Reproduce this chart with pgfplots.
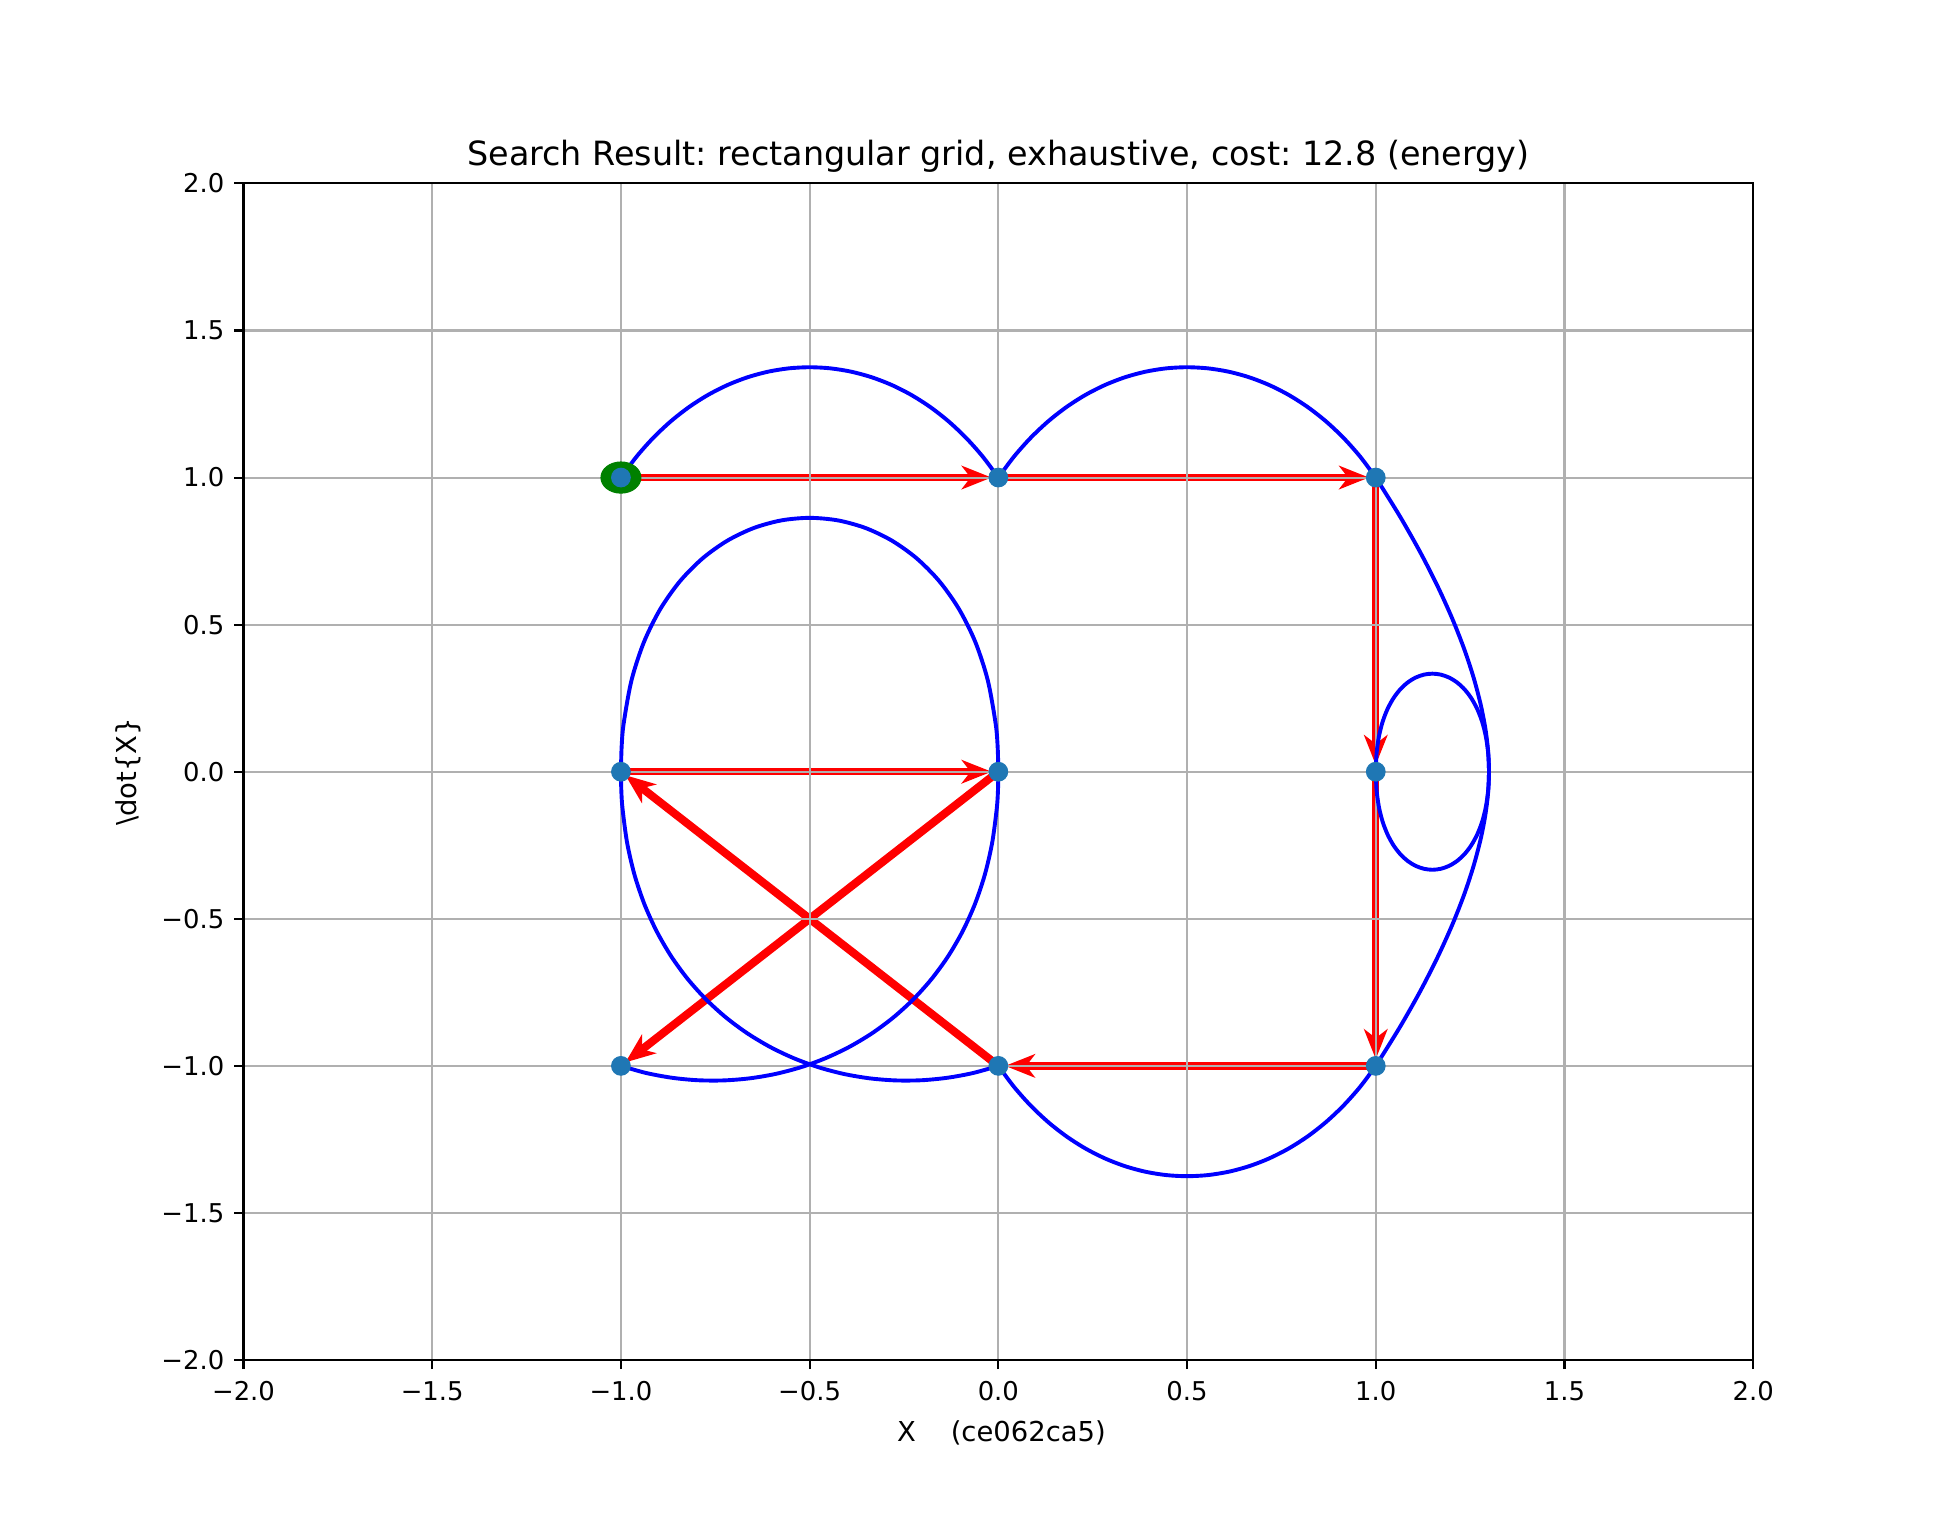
\documentclass[border=0pt]{standalone}
\usepackage{fontspec}
\setmainfont{DejaVu Sans}
\usepackage{pgfplots}
\pgfplotsset{compat=1.18}
\usetikzlibrary{arrows.meta}
\definecolor{mplblue}{HTML}{1F77B4}
\definecolor{mplgreen}{HTML}{008000}
\definecolor{gridgrey}{HTML}{B0B0B0}
\definecolor{pureblue}{HTML}{0000FF}
\definecolor{purered}{HTML}{FF0000}
\pgfplotsset{redarrow/.style={on layer=axis background, purered, line width=2.8bp, shorten >=2.6bp,
  -{Stealth[length=11.5bp, width=9bp, inset=3.4bp]}}}
\frenchspacing
\begin{document}
\begin{tikzpicture}
\begin{axis}[
  at={(0,0)}, anchor=south west,
  scale only axis, width=581.2bp, height=453.0bp,
  xmin=-2, xmax=2, ymin=-2, ymax=2,
  xtick={-2,-1.5,-1,-0.5,0,0.5,1,1.5,2},
  ytick={-2,-1.5,-1,-0.5,0,0.5,1,1.5,2},
  xticklabels={−2.0,−1.5,−1.0,−0.5,0.0,0.5,1.0,1.5,2.0},
  yticklabels={−2.0,−1.5,−1.0,−0.5,0.0,0.5,1.0,1.5,2.0},
  tick pos=left,
  tick align=outside, major tick length=3.5bp,
  tick style={line width=0.8bp, black},
  axis line style={line width=0.8bp, black},
  grid=major, grid style={line width=0.8bp, gridgrey},
  xticklabel style={font=\fontsize{10}{12}\selectfont, inner sep=0pt, anchor=north, yshift=-4.5bp},
  yticklabel style={font=\fontsize{10}{12}\selectfont, inner sep=0pt, anchor=east, xshift=-3.7bp},
  title={Search Result: rectangular grid, exhaustive, cost: 12.8 (energy)},
  title style={font=\fontsize{12.9}{15}\selectfont, at={(axis description cs:0.5,1)}, anchor=south, inner sep=0pt, yshift=-2.1bp},
  xlabel={X\ \ \ \ (ce062ca5)},
  xlabel style={font=\fontsize{10.6}{12.5}\selectfont, at={(axis description cs:0.5,0)}, anchor=north, inner sep=0pt, yshift=-23.0bp, xshift=1.2bp},
  ylabel={\textbackslash dot\{X\}},
  ylabel style={font=\fontsize{10.6}{12.5}\selectfont, at={(axis description cs:-0.0675,0.5)}, anchor=south, inner sep=0pt},
  set layers,
  clip=false,
]
% start marker (patch, under grid)
\addplot[on layer=axis background, color=mplgreen, only marks, mark=*, mark size=6bp,
  mark options={xscale=1.282, fill=mplgreen, draw=mplgreen}] coordinates {(-1,1)};
% arrows (patches, under grid)
\addplot[redarrow] coordinates {(-1,1) (0,1)};
\addplot[redarrow] coordinates {(0,1) (1,1)};
\addplot[redarrow] coordinates {(1,1) (1,0)};
\addplot[redarrow] coordinates {(1,0) (1,-1)};
\addplot[redarrow] coordinates {(1,-1) (0,-1)};
\addplot[redarrow, line width=3.1bp, shorten >=2.2bp] coordinates {(0,-1) (-1,0)};
\addplot[redarrow] coordinates {(-1,0) (0,0)};
\addplot[redarrow, line width=3.1bp, shorten >=2.2bp] coordinates {(0,0) (-1,-1)};
% grid points
\addplot[color=mplblue, only marks, mark=*, mark size=3.6bp, mark options={fill=mplblue, draw=mplblue}]
  coordinates {(-1,1) (0,1) (1,1) (1,0) (1,-1) (0,-1) (-1,0) (0,0) (-1,-1)};
% trajectories
\addplot[pureblue, line width=1.5bp, smooth, no markers] coordinates {
(-1,1) (-0.95855,1.07125) (-0.9144,1.135) (-0.86785,1.19125) (-0.8192,1.24)
(-0.76875,1.28125) (-0.7168,1.315) (-0.66365,1.34125) (-0.6096,1.36) (-0.55495,1.37125)
(-0.5,1.375) (-0.44505,1.37125) (-0.3904,1.36) (-0.33635,1.34125) (-0.2832,1.315)
(-0.23125,1.28125) (-0.1808,1.24) (-0.13215,1.19125) (-0.0856,1.135) (-0.04145,1.07125) (0,1)};
\addplot[pureblue, line width=1.5bp, smooth, no markers] coordinates {
(0,1) (0.04145,1.07125) (0.0856,1.135) (0.13215,1.19125) (0.1808,1.24)
(0.23125,1.28125) (0.2832,1.315) (0.33635,1.34125) (0.3904,1.36) (0.44505,1.37125)
(0.5,1.375) (0.55495,1.37125) (0.6096,1.36) (0.66365,1.34125) (0.7168,1.315)
(0.76875,1.28125) (0.8192,1.24) (0.86785,1.19125) (0.9144,1.135) (0.95855,1.07125) (1,1)};
\addplot[pureblue, line width=1.5bp, smooth, no markers] coordinates {
(1,1) (1.0631,0.87) (1.1176,0.7467) (1.164,0.63) (1.2028,0.52) (1.2344,0.4167)
(1.2592,0.32) (1.2777,0.23) (1.2904,0.1467) (1.2977,0.07) (1.3,0) (1.2978,-0.0633)
(1.2916,-0.12) (1.2818,-0.17) (1.2688,-0.2133) (1.2531,-0.25) (1.2352,-0.28)
(1.2155,-0.3033) (1.1944,-0.32) (1.1724,-0.33) (1.15,-0.3333) (1.1276,-0.33)
(1.1056,-0.32) (1.0845,-0.3033) (1.0648,-0.28) (1.0469,-0.25) (1.0312,-0.2133)
(1.0182,-0.17) (1.0084,-0.12) (1.0022,-0.0633) (1,0)};
\addplot[pureblue, line width=1.5bp, smooth, no markers] coordinates {
(1,0) (1.0022,0.0633) (1.0084,0.12) (1.0182,0.17) (1.0312,0.2133) (1.0469,0.25)
(1.0648,0.28) (1.0845,0.3033) (1.1056,0.32) (1.1276,0.33) (1.15,0.3333) (1.1724,0.33)
(1.1944,0.32) (1.2155,0.3033) (1.2352,0.28) (1.2531,0.25) (1.2688,0.2133) (1.2818,0.17)
(1.2916,0.12) (1.2978,0.0633) (1.3,0) (1.2977,-0.07) (1.2904,-0.1467) (1.2777,-0.23)
(1.2592,-0.32) (1.2344,-0.4167) (1.2028,-0.52) (1.164,-0.63) (1.1176,-0.7467)
(1.0631,-0.87) (1,-1)};
\addplot[pureblue, line width=1.5bp, smooth, no markers] coordinates {
(1,-1) (0.95855,-1.07125) (0.9144,-1.135) (0.86785,-1.19125) (0.8192,-1.24)
(0.76875,-1.28125) (0.7168,-1.315) (0.66365,-1.34125) (0.6096,-1.36) (0.55495,-1.37125)
(0.5,-1.375) (0.44505,-1.37125) (0.3904,-1.36) (0.33635,-1.34125) (0.2832,-1.315)
(0.23125,-1.28125) (0.1808,-1.24) (0.13215,-1.19125) (0.0856,-1.135) (0.04145,-1.07125) (0,-1)};
\addplot[pureblue, line width=1.5bp, smooth, no markers] coordinates {
(0,-1) (-0.0666,-1.0241) (-0.1346,-1.0403) (-0.2034,-1.0488) (-0.2724,-1.0494)
(-0.3413,-1.0423) (-0.4095,-1.0274) (-0.4764,-1.0047) (-0.5415,-0.9742) (-0.6044,-0.9359)
(-0.6645,-0.8898) (-0.7213,-0.8359) (-0.7743,-0.7742) (-0.8230,-0.7047) (-0.8669,-0.6274)
(-0.9054,-0.5423) (-0.9381,-0.4494) (-0.9644,-0.3488) (-0.9838,-0.2403) (-0.9959,-0.124)
(-0.9990,-0.063) (-1,0)};
\addplot[pureblue, line width=1.5bp, smooth, no markers] coordinates {
(-1,0) (-0.99816,0.0841) (-0.99275,0.164) (-0.972,0.3107) (-0.93925,0.4401) (-0.896,0.5523)
(-0.84375,0.6473) (-0.784,0.7249) (-0.71825,0.7853) (-0.648,0.8285) (-0.57475,0.8544)
(-0.5,0.863) (-0.42525,0.8544) (-0.352,0.8285) (-0.28175,0.7853) (-0.216,0.7249)
(-0.15625,0.6473) (-0.104,0.5523) (-0.06075,0.4401) (-0.028,0.3107) (-0.00725,0.164)
(-0.00184,0.0841) (0,0)};
\addplot[pureblue, line width=1.5bp, smooth, no markers] coordinates {
(0,0) (-0.0010,-0.063) (-0.0041,-0.124) (-0.0162,-0.2403) (-0.0356,-0.3488)
(-0.0619,-0.4494) (-0.0946,-0.5423) (-0.1331,-0.6274) (-0.1770,-0.7047) (-0.2257,-0.7742)
(-0.2787,-0.8359) (-0.3355,-0.8898) (-0.3956,-0.9359) (-0.4585,-0.9742) (-0.5236,-1.0047)
(-0.5905,-1.0274) (-0.6587,-1.0423) (-0.7276,-1.0494) (-0.7966,-1.0488) (-0.8654,-1.0403)
(-0.9334,-1.0241) (-1,-1)};
\end{axis}
\pgfresetboundingbox
\path[use as bounding box] (-93.75bp,-64.7bp) rectangle (656.2bp,523.6bp);
\end{tikzpicture}
\end{document}
